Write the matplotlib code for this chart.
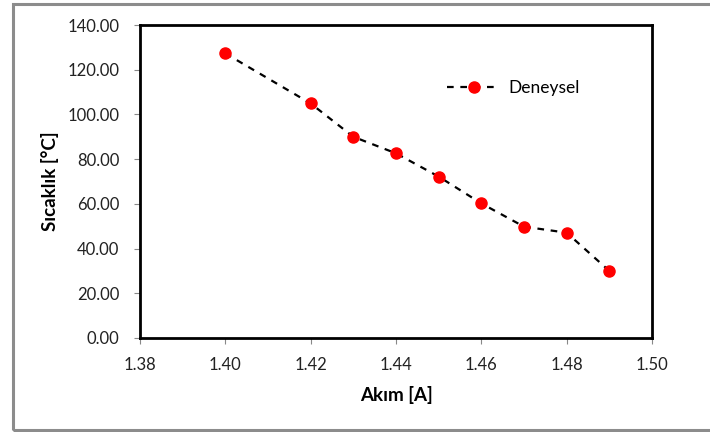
import matplotlib.pyplot as plt
from matplotlib.patches import Rectangle

# data
akim = [1.40, 1.42, 1.43, 1.44, 1.45, 1.46, 1.47, 1.48, 1.49]
sicaklik = [127.3, 104.9, 90.0, 82.6, 72.2, 60.2, 49.8, 47.1, 30.0]
xticks = [1.38, 1.40, 1.42, 1.44, 1.46, 1.48, 1.50]
yticks = [0, 20, 40, 60, 80, 100, 120, 140]

plt.rcParams['font.family'] = ['Lato', 'DejaVu Sans']

fig = plt.figure(figsize=(7.10, 4.32), dpi=100)
ax = fig.add_axes([140/710, 1-338/432, 512/710, 313/432])

# outer chart border
fig.patches.append(Rectangle((12.5/710, 2/432), 0.99, 426/432, transform=fig.transFigure,
                             fill=False, edgecolor='#8c8c8c', lw=2.2))

ax.plot(akim, sicaklik, ls='--', dashes=(3, 3), color='black', lw=1.6,
        marker='o', markersize=8, markerfacecolor='red', markeredgecolor='red',
        label='Deneysel')

ax.set_xlim(1.38, 1.50)
ax.set_ylim(0, 140)
ax.set_xticks(xticks)
ax.set_yticks(yticks)
ax.set_xticklabels(['%.2f' % v for v in xticks])
ax.set_yticklabels(['%.2f' % v for v in yticks])
ax.tick_params(direction='out', length=4, color='#888888', labelsize=12,
               labelcolor='#222222')
ax.tick_params(axis='x', pad=10)
ax.tick_params(axis='y', pad=11)

for s in ax.spines.values():
    s.set_linewidth(2)
    s.set_color('black')

ax.set_xlabel('Akım [A]', fontsize=13.5, fontweight='bold', labelpad=9)
ax.set_ylabel('Sıcaklık [°C]', fontsize=13.5, fontweight='bold', labelpad=6)

leg = ax.legend(loc='center left', bbox_to_anchor=(0.57, 0.80), frameon=False,
                fontsize=12.5, handlelength=3.0, handletextpad=0.5)

fig.savefig('out.png', dpi=100)
